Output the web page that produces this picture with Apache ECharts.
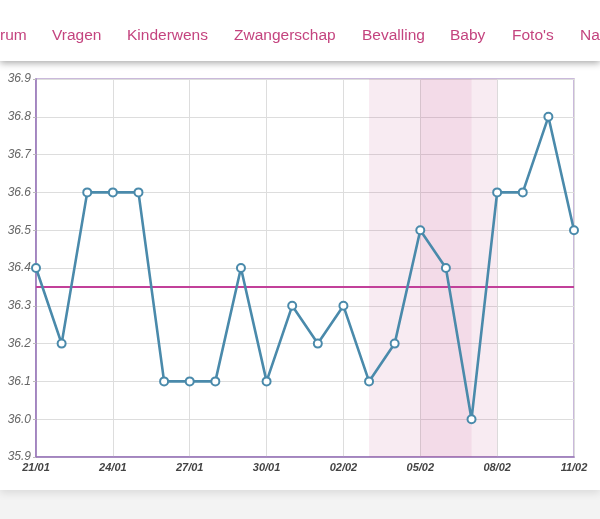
<!DOCTYPE html>
<html>
<head>
<meta charset="utf-8">
<style>
html,body{margin:0;padding:0;background:#f3f3f3;}
#c{width:600px;height:519px;}
</style>
<script src="https://cdn.jsdelivr.net/npm/echarts@6/dist/echarts.min.js"></script>
</head>
<body>
<div id="c"></div>
<script>
const navItems = ['rum', 'Vragen', 'Kinderwens', 'Zwangerschap', 'Bevalling', 'Baby', "Foto's", 'Na'];
const navX = [0, 52, 127, 234, 362, 450, 512, 580];
const dates = ['21/01','22/01','23/01','24/01','25/01','26/01','27/01','28/01','29/01','30/01','31/01','01/02','02/02','03/02','04/02','05/02','06/02','07/02','08/02','09/02','10/02','11/02'];
const temps = [36.4,36.2,36.6,36.6,36.6,36.1,36.1,36.1,36.4,36.1,36.3,36.2,36.3,36.1,36.2,36.5,36.4,36.0,36.6,36.6,36.8,36.5];
const coverLine = 36.35;
const lightBand = ['03/02','08/02'];
const darkBand = ['05/02','07/02'];

const chart = echarts.init(document.getElementById('c'), null, {renderer:'canvas'});
const graphics = [
  {type:'rect', z:-10, shape:{x:0,y:0,width:600,height:490}, style:{fill:'#ffffff', shadowBlur:8, shadowColor:'rgba(0,0,0,0.10)', shadowOffsetY:3}},
  {type:'rect', z:-5, shape:{x:0,y:0,width:600,height:61}, style:{fill:'#ffffff', shadowBlur:7, shadowColor:'rgba(0,0,0,0.35)', shadowOffsetY:2}}
];
navItems.forEach((t,i)=>{
  graphics.push({type:'text', z:1, x:navX[i], y:36, style:{text:t, fill:'#c4447f', font:'15.5px "Liberation Sans", Arial, sans-serif', verticalAlign:'middle'}});
});

chart.setOption({
  animation:false,
  backgroundColor:'transparent',
  graphic: graphics,
  grid:{left:36, right:26, top:79, bottom:62, show:true, borderColor:'#b9a3d0', borderWidth:1.5, backgroundColor:'transparent'},
  xAxis:{
    type:'category', data:dates, boundaryGap:false,
    axisLine:{show:true, lineStyle:{color:'#9673b8', width:1.5}},
    axisTick:{show:false},
    axisLabel:{interval:2, color:'#444', fontSize:11, fontStyle:'italic', fontWeight:'bold', fontFamily:'"Liberation Sans", Arial, sans-serif', margin:5},
    splitLine:{show:true, interval:2, lineStyle:{color:'#dddddd', width:1}}
  },
  yAxis:{
    type:'value', min:35.9, max:36.9, interval:0.1,
    axisLine:{show:true, lineStyle:{color:'#9673b8', width:1.5}},
    axisTick:{show:true, length:3, lineStyle:{color:'#bbb'}},
    axisLabel:{color:'#666', fontSize:12, fontStyle:'italic', fontFamily:'"Liberation Sans", Arial, sans-serif', margin:5, formatter:v=>v.toFixed(1)},
    splitLine:{show:true, lineStyle:{color:'#dddddd', width:1}}
  },
  series:[
    {
      type:'line', data:temps, symbol:'emptyCircle', symbolSize:8,
      lineStyle:{color:'#4a8aab', width:2.6},
      itemStyle:{color:'#4a8aab', borderWidth:2.2},
      z:5,
      markArea:{
        silent:true,
        data:[
          [{xAxis:lightBand[0], itemStyle:{color:'rgba(195,70,135,0.11)'}},{xAxis:lightBand[1]}],
          [{xAxis:darkBand[0], itemStyle:{color:'rgba(195,70,135,0.09)'}},{xAxis:darkBand[1]}]
        ]
      },
      markLine:{
        silent:true, symbol:'none', label:{show:false},
        lineStyle:{color:'#c2409a', width:2, type:'solid'},
        data:[{yAxis:coverLine}]
      }
    }
  ]
});
</script>
</body>
</html>
